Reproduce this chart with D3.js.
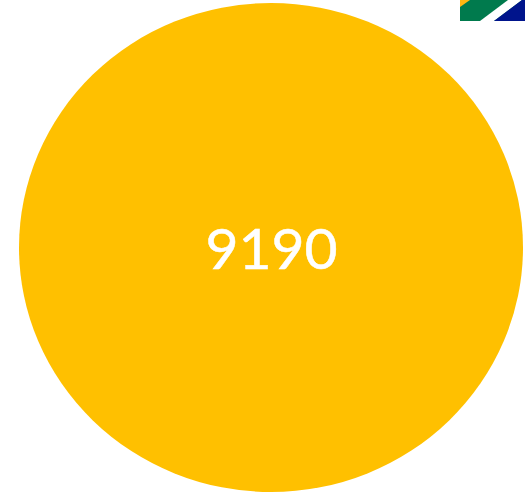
<!DOCTYPE html>
<html>
<head>
<meta charset="utf-8">
<script src="https://cdn.jsdelivr.net/npm/d3@7"></script>
<style>html,body{margin:0;padding:0;background:#fff;overflow:hidden}svg{display:block}</style>
</head>
<body>
<script>
const values = [9190];
const labels = ["9190"];
const colors = ["#FFC000"];
const flagColors = {green:"#007A4D", yellow:"#FFB612", white:"#FFFFFF", blue:"#00148C"};

const W = 525, H = 493;
const svg = d3.select("body").append("svg").attr("width", W).attr("height", H);

const rx = d3.scaleSqrt().domain([0, 9190]).range([0, 252]);
const ry = d3.scaleSqrt().domain([0, 9190]).range([0, 244.5]);

svg.selectAll("ellipse").data(values).join("ellipse")
  .attr("cx", 271).attr("cy", 247.5)
  .attr("rx", d => rx(d)).attr("ry", d => ry(d))
  .attr("fill", (d, i) => colors[i]);

svg.selectAll("text.v").data(values).join("text").attr("class", "v")
  .attr("x", 271.5).attr("y", 269)
  .attr("text-anchor", "middle")
  .attr("font-family", "Lato, sans-serif")
  .attr("font-size", 57)
  .attr("fill", "#fff")
  .attr("stroke", "#fff")
  .attr("stroke-width", 0.5)
  .text((d, i) => labels[i]);

const flag = svg.append("g");
const poly = (pts, c) => flag.append("polygon").attr("points", pts.map(p => p.join(",")).join(" ")).attr("fill", c);
poly([[460,0],[525,0],[525,21],[460,21]], flagColors.green);
poly([[460,0],[470,0],[460,7]], flagColors.yellow);
poly([[508,0],[522,0],[494,21],[480,21]], flagColors.white);
poly([[522,0],[525,0],[525,21],[494,21]], flagColors.blue);
</script>
</body>
</html>
